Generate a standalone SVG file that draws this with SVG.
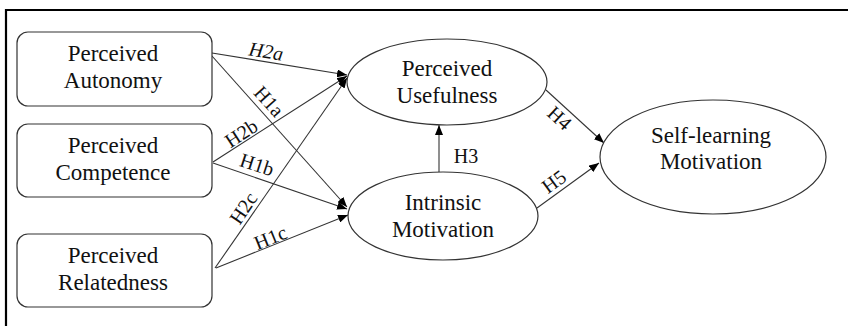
<svg xmlns="http://www.w3.org/2000/svg" width="848" height="326" viewBox="0 0 848 326">
<defs>
<marker id="ah" viewBox="0 0 10 8" refX="10" refY="4" markerWidth="10" markerHeight="8" markerUnits="userSpaceOnUse" orient="auto">
<path d="M0,0 L10,4 L0,8 Z" fill="#000"/>
</marker>
<style>
.box{fill:#fff;stroke:#333;stroke-width:1.2}
.ell{fill:#fff;stroke:#333;stroke-width:1.2}
.t{font-family:"Liberation Serif","Times New Roman",serif;font-size:23px;fill:#111;text-anchor:middle}
.l{font-family:"Liberation Serif","Times New Roman",serif;font-size:20px;fill:#111;text-anchor:middle}
.c{stroke:#333;stroke-width:1.1;fill:none;marker-end:url(#ah)}
</style>
</defs>
<rect x="0" y="0" width="848" height="326" fill="#fff"/>
<path d="M6,330 L6,10 L850,10" fill="none" stroke="#000" stroke-width="2.2"/>
<g id="connectors">
<line class="c" x1="212" y1="53" x2="347" y2="75"/>
<line class="c" x1="212" y1="56" x2="347" y2="207"/>
<line class="c" x1="213" y1="162" x2="347" y2="76"/>
<line class="c" x1="213" y1="163" x2="347" y2="209"/>
<line class="c" x1="215" y1="268" x2="347" y2="78"/>
<line class="c" x1="216" y1="268" x2="348" y2="215"/>
<line class="c" x1="439" y1="172" x2="439" y2="125"/>
<line class="c" x1="546" y1="90" x2="604" y2="143"/>
<line class="c" x1="537" y1="208" x2="599" y2="163"/>
<text class="l" font-style="italic" transform="translate(265,58) rotate(9)">H2a</text>
<text class="l" transform="translate(264,106) rotate(48)">H1a</text>
<text class="l" transform="translate(245,139) rotate(-33)">H2b</text>
<text class="l" transform="translate(255,171) rotate(18)">H1b</text>
<text class="l" transform="translate(249,212) rotate(-56)">H2c</text>
<text class="l" transform="translate(273,244) rotate(-22)">H1c</text>
<text class="l" x="466" y="163">H3</text>
<text class="l" transform="translate(555,123) rotate(43)">H4</text>
<text class="l" transform="translate(558,187) rotate(-36)">H5</text>
</g>
<g id="autonomy">
<rect class="box" x="17" y="32" width="195" height="74" rx="11"/>
<text class="t" x="113" y="61">Perceived</text>
<text class="t" x="113" y="88">Autonomy</text>
</g>
<g id="competence">
<rect class="box" x="17" y="124" width="195" height="73" rx="11"/>
<text class="t" x="113" y="153">Perceived</text>
<text class="t" x="113" y="180">Competence</text>
</g>
<g id="relatedness">
<rect class="box" x="17" y="234" width="195" height="73" rx="11"/>
<text class="t" x="113" y="263">Perceived</text>
<text class="t" x="113" y="290">Relatedness</text>
</g>
<g id="usefulness">
<ellipse class="ell" cx="447" cy="82" rx="100" ry="43"/>
<text class="t" x="447" y="76">Perceived</text>
<text class="t" x="447" y="103">Usefulness</text>
</g>
<g id="intrinsic">
<ellipse class="ell" cx="443" cy="216" rx="95" ry="44"/>
<text class="t" x="443" y="210">Intrinsic</text>
<text class="t" x="443" y="237">Motivation</text>
</g>
<g id="selflearning">
<ellipse class="ell" cx="713" cy="157" rx="113" ry="57"/>
<text class="t" x="711" y="143">Self-learning</text>
<text class="t" x="711" y="169">Motivation</text>
</g>
</svg>
